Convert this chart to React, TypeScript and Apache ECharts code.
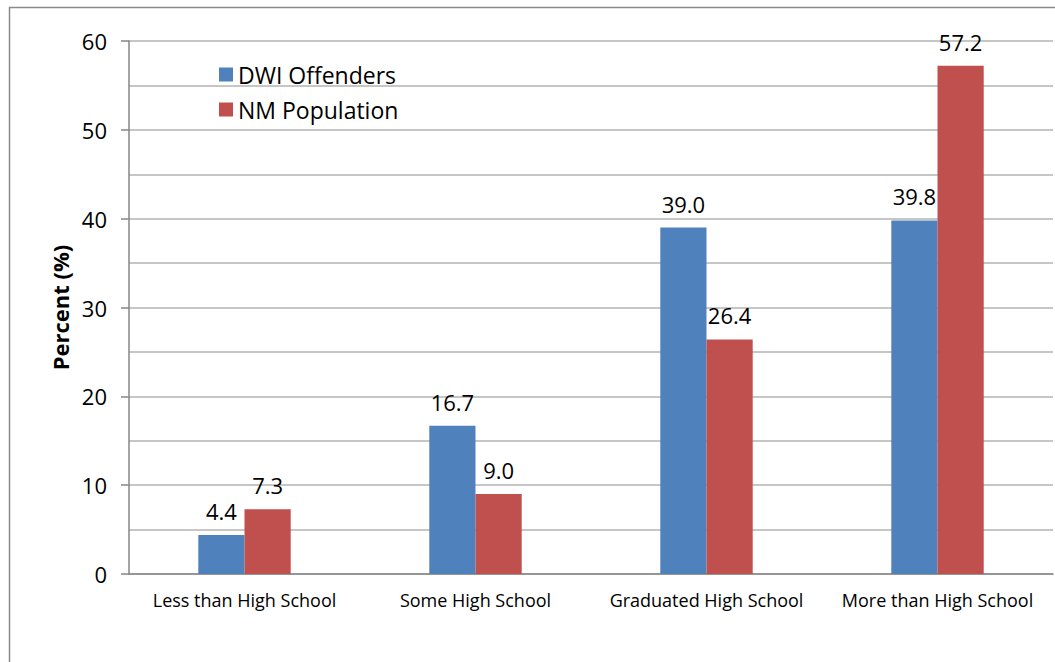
import React, { useEffect, useRef } from "react";
import * as echarts from "echarts";

const categories = ["Less than High School", "Some High School", "Graduated High School", "More than High School"];
const dwiOffenders = [4.4, 16.7, 39.0, 39.8];
const nmPopulation = [7.3, 9.0, 26.4, 57.2];
const seriesNames = ["DWI Offenders", "NM Population"];
const yAxisName = "Percent (%)";

const FONT = "'Open Sans', 'Noto Sans', sans-serif";

export default function App() {
  const ref = useRef<HTMLDivElement>(null);
  useEffect(() => {
    if (!ref.current) return;
    const chart = echarts.init(ref.current, undefined, { renderer: "svg" });
    const label = {
      show: true,
      position: "top" as const,
      distance: 13,
      fontSize: 22,
      fontFamily: FONT,
      color: "#000",
      formatter: (p: any) => Number(p.value).toFixed(1),
    };
    chart.setOption({
      animation: false,
      backgroundColor: "#fff",
      graphic: [
        {
          type: "rect",
          shape: { x: 9.5, y: 7.5, width: 1200, height: 800 },
          style: { fill: "none", stroke: "#8a8a8a", lineWidth: 1.5 },
          silent: true,
          z: -1,
        },
      ],
      legend: {
        orient: "vertical",
        left: 214,
        top: 58,
        itemWidth: 14,
        itemHeight: 14,
        itemGap: 12,
        icon: "rect",
        textStyle: { fontSize: 23, fontFamily: FONT, color: "#000" },
        data: seriesNames,
      },
      grid: { left: 129, right: 2, top: 41, bottom: 88, containLabel: false },
      xAxis: {
        type: "category",
        data: categories,
        axisLine: { lineStyle: { color: "#868686", width: 1.5 } },
        axisTick: { show: false },
        axisLabel: { fontSize: 18, fontFamily: FONT, color: "#000", margin: 17, interval: 0 },
      },
      yAxis: {
        type: "value",
        min: 0,
        max: 60,
        interval: 10,
        name: yAxisName,
        nameLocation: "middle",
        nameGap: 57,
        nameTextStyle: { fontSize: 22, fontWeight: "bold", fontFamily: FONT, color: "#000" },
        axisLine: { show: true, lineStyle: { color: "#868686", width: 1.5 } },
        axisTick: { show: true, length: 8, lineStyle: { color: "#868686", width: 1.5 } },
        axisLabel: { fontSize: 22, fontFamily: FONT, color: "#000", margin: 22 },
        splitLine: { show: true, lineStyle: { color: "#b3b3b3", width: 1.5 } },
        minorTick: { show: false, splitNumber: 2 },
        minorSplitLine: { show: true, lineStyle: { color: "#b3b3b3", width: 1.5 } },
      },
      series: [
        {
          name: seriesNames[0],
          type: "bar",
          data: dwiOffenders,
          barWidth: "20%",
          barGap: "0%",
          itemStyle: { color: "#4f81bd" },
          label,
        },
        {
          name: seriesNames[1],
          type: "bar",
          data: nmPopulation,
          barWidth: "20%",
          barGap: "0%",
          itemStyle: { color: "#c0504d" },
          label,
        },
      ],
    });
    return () => chart.dispose();
  }, []);
  return <div ref={ref} style={{ position: "absolute", left: 0, top: 0, width: 1055, height: 662 }} />;
}
